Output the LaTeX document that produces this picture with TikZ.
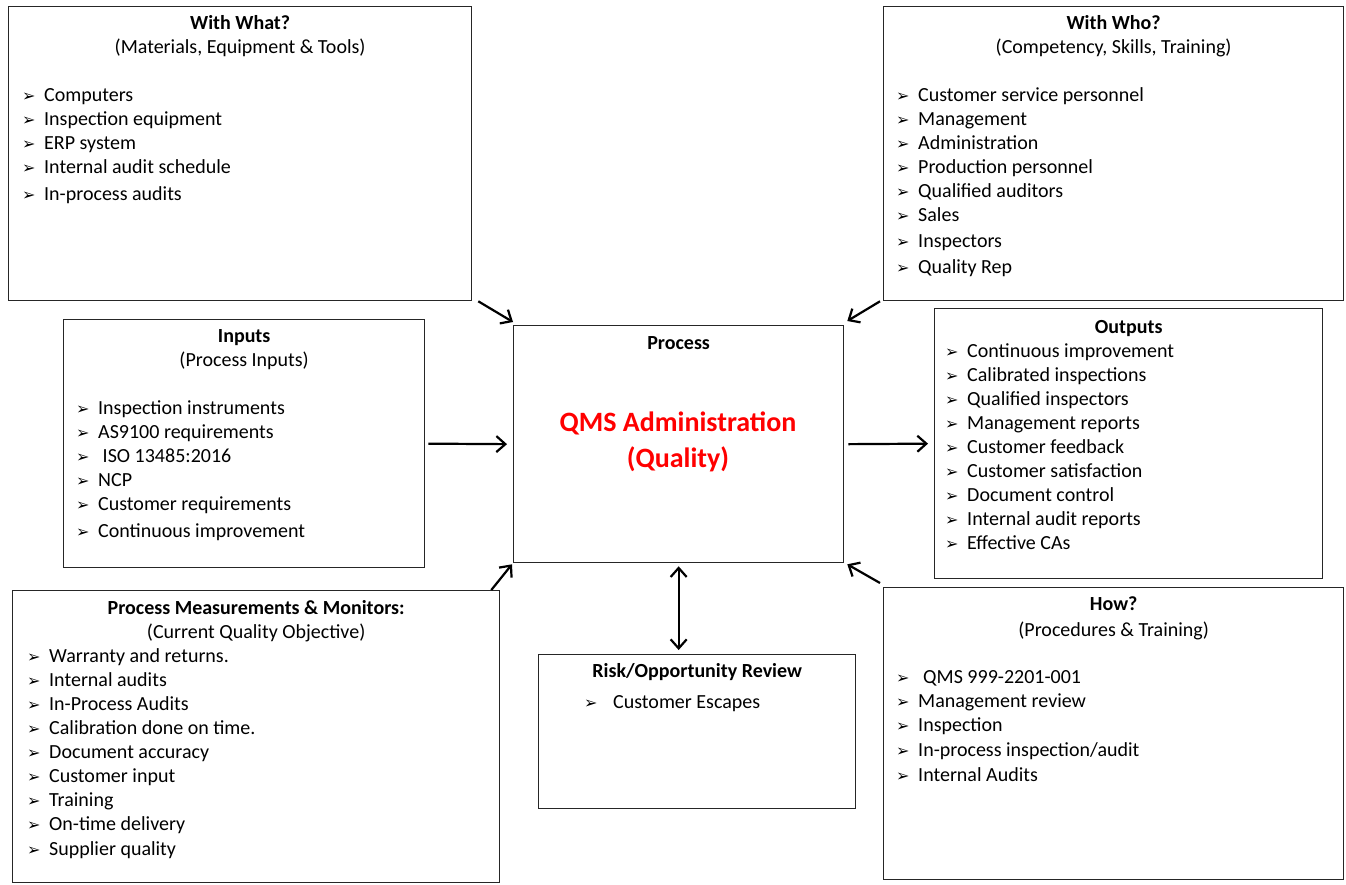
\documentclass[tikz,border=0pt]{standalone}
\usepackage{fontspec}
\setmainfont{Carlito}
\newfontfamily\arrowfont{DejaVu Sans}
\usetikzlibrary{arrows.meta,calc,positioning}

\newcommand{\itm}[1][22pt]{\rule{0pt}{17pt}\makebox[#1][l]{\arrowfont\fontsize{16}{16}\selectfont ➢}}

\tikzset{
  box/.style={draw=black!85, line width=1.3pt, anchor=north west, inner sep=0pt},
  title/.style={font=\fontsize{20}{24}\selectfont\bfseries, anchor=base},
  subtitle/.style={font=\fontsize{20}{24}\selectfont, anchor=base},
  items/.style={font=\fontsize{20}{24}\selectfont, align=left, anchor=north west, inner sep=0pt},
  flow/.style={-{Straight Barb[length=9pt,width=16pt]}, line width=2.2pt},
  twoway/.style={{Straight Barb[length=9pt,width=16pt]}-{Straight Barb[length=9pt,width=16pt]}, line width=2.2pt},
}

\begin{document}
\begin{tikzpicture}[x=1pt,y=-1pt]
\useasboundingbox (0,0) rectangle (1346,884);

% boxes
\node[box, minimum width=463pt, minimum height=294pt] (what) at (8,6) {};
\node[box, minimum width=460pt, minimum height=294pt] (who) at (883,6) {};
\node[box, minimum width=361pt, minimum height=248pt] (inp) at (63,319) {};
\node[box, minimum width=330pt, minimum height=237pt] (proc) at (513,325) {};
\node[box, minimum width=388pt, minimum height=270pt] (out) at (934,308) {};
\node[box, minimum width=487pt, minimum height=292pt] (meas) at (12,590) {};
\node[box, minimum width=317pt, minimum height=154pt] (risk) at (538,654) {};
\node[box, minimum width=460pt, minimum height=292pt] (how) at (883,587) {};

% with what
\node[title] (whatT) at ($(what.north)+(0,23)$) {With What?};
\node[subtitle] (whatS) at ($(whatT.base)+(0,24)$) {(Materials, Equipment \& Tools)};
\node[items] (whatL) at (22,84) {\itm Computers\\ \itm Inspection equipment\\ \itm ERP system\\
  \itm Internal audit schedule\\[3pt] \itm In-process audits};

% with who
\node[title] (whoT) at ($(who.north)+(0,23)$) {With Who?};
\node[subtitle] (whoS) at ($(whoT.base)+(0,24)$) {(Competency, Skills, Training)};
\node[items] (whoL) at (896,84) {\itm Customer service personnel\\ \itm Management\\ \itm Administration\\
  \itm Production personnel\\ \itm Qualified auditors\\ \itm Sales\\[2pt] \itm Inspectors\\[2pt] \itm Quality Rep};

% inputs
\node[title] (inpT) at ($(inp.north)+(0,23)$) {Inputs};
\node[subtitle] (inpS) at ($(inpT.base)+(0,24)$) {(Process Inputs)};
\node[items] (inpL) at (76,397) {\itm Inspection instruments\\ \itm AS9100 requirements\\ \itm\ ISO 13485:2016\\
  \itm NCP\\ \itm Customer requirements\\[3pt] \itm Continuous improvement};

% process
\node[title] (procT) at ($(proc.north)+(0,24)$) {Process};
\node[font=\fontsize{28}{36}\selectfont\bfseries, text=red, align=center] (procN) at (678,442)
  {QMS Administration\\(Quality)};

% outputs
\node[title] (outT) at ($(out.north)+(0,25)$) {Outputs};
\node[items] (outL) at (945,340) {\itm Continuous improvement\\ \itm Calibrated inspections\\ \itm Qualified inspectors\\
  \itm Management reports\\ \itm Customer feedback\\ \itm Customer satisfaction\\ \itm Document control\\
  \itm Internal audit reports\\ \itm Effective CAs};

% measurements
\node[title] (measT) at ($(meas.north)+(0,24)$) {Process Measurements \& Monitors:};
\node[subtitle] (measS) at ($(measT.base)+(0,24)$) {(Current Quality Objective)};
\node[items] (measL) at (27,645) {\itm Warranty and returns.\\ \itm Internal audits\\ \itm In-Process Audits\\
  \itm Calibration done on time.\\ \itm Document accuracy\\ \itm Customer input\\ \itm Training\\
  \itm On-time delivery\\[1pt] \itm Supplier quality};

% risk
\node[title] (riskT) at ($(risk.north)+(0,23)$) {Risk/Opportunity Review};
\node[items] (riskL) at (584,691) {\itm[29pt]Customer Escapes};

% how
\node[title] (howT) at ($(how.north)+(0,23)$) {How?};
\node[subtitle] (howS) at ($(howT.base)+(0,26)$) {(Procedures \& Training)};
\node[items] (howL) at (896,666) {\itm[27pt]QMS 999-2201-001\\ \itm Management review\\ \itm Inspection\\[1pt]
  \itm In-process inspection/audit\\[1pt] \itm Internal Audits};

% arrows
\draw[flow] ($(what.south east)+(6,0)$) -- ($(proc.north west)+(0,-3)$);
\draw[flow] ($(who.south west)+(-3,0)$) -- ($(proc.north east)+(3,-4)$);
\draw[flow] ($(inp.east)+(3,0)$) -- ($(proc.west)+(-6,0)$);
\draw[flow] ($(proc.east)+(4,0)$) -- ($(out.west)+(-6,0)$);
\draw[flow] ($(meas.north east)+(-9,0)$) -- ($(proc.south west)+(-1,1)$);
\draw[flow] ($(how.north west)+(-3,-4)$) -- ($(proc.south east)+(3,1)$);
\draw[twoway] ($(proc.south)+(0,3)$) -- ($(proc.south |- risk.north)+(0,-4)$);
\end{tikzpicture}
\end{document}
